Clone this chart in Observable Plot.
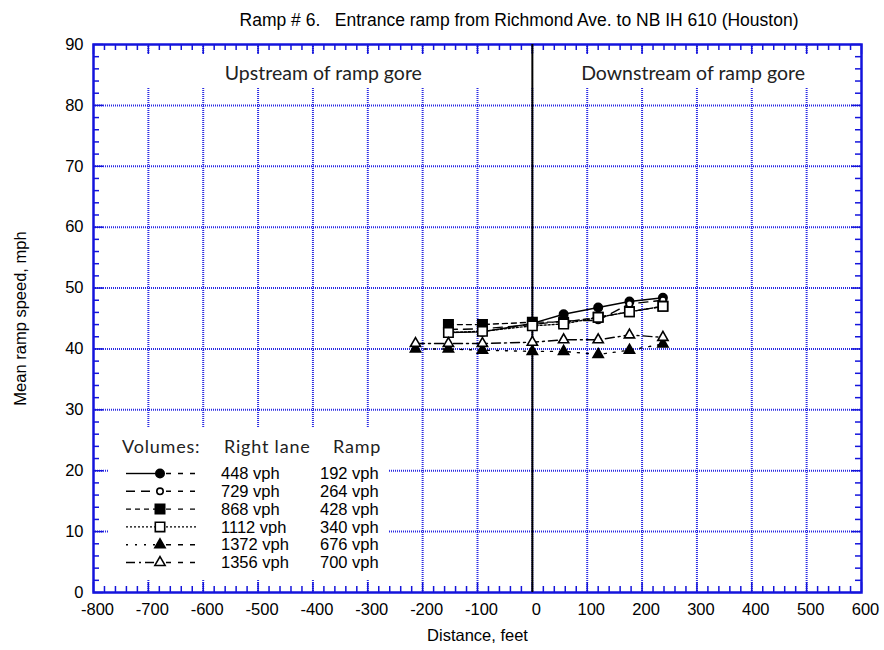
<!DOCTYPE html>
<html><head><meta charset="utf-8">
<script src="https://cdn.jsdelivr.net/npm/d3@7"></script>
<script src="https://cdn.jsdelivr.net/npm/@observablehq/plot@0.6"></script>
<style>
body{margin:0;background:#fff;}
#wrap{position:relative;width:884px;height:650px;font-family:"Liberation Sans",Arial,sans-serif;}
#title{height:30px;box-sizing:border-box;padding:11px 0 0 154px;line-height:18px;font-size:17.5px;text-align:center;white-space:pre;color:#000;}
#legend{position:absolute;left:0;top:0;pointer-events:none;}
</style></head><body>
<div id="wrap"><div id="title"></div><div id="chart"></div><svg id="legend" width="884" height="650"></svg></div>
<script>
// ---------- data ----------
const chartTitle = "Ramp # 6.   Entrance ramp from Richmond Ave. to NB IH 610 (Houston)";
const xLabel = "Distance, feet";
const yLabel = "Mean ramp speed, mph";
const regionLabels = ["Upstream of ramp gore", "Downstream of ramp gore"];
const regionCenters = [-381, 293];
const xTicks = [-800,-700,-600,-500,-400,-300,-200,-100,0,100,200,300,400,500,600];
const yTicks = [0,10,20,30,40,50,60,70,80,90];
const distances = [-213,-153,-91,0,57,120,177,238];
const seriesNames = ["448","729","868","1112","1372","1356"];
const rightLane = ["448 vph","729 vph","868 vph","1112 vph","1372 vph","1356 vph"];
const rampVolume = ["192 vph","264 vph","428 vph","340 vph","676 vph","700 vph"];
const legendHeader = ["Volumes:", "Right lane", "Ramp"];
const s448  = [null, 42.7, 42.8, 44.2, 45.7, 46.8, 47.8, 48.4];
const s729  = [null, 43.2, 43.3, 44.0, 44.6, 44.7, 47.4, 48.0];
const s868  = [null, 44.0, 44.0, 44.4, 44.4, 45.2, 46.1, 47.0];
const s1112 = [null, 42.7, 42.9, 43.8, 44.1, 45.2, 46.1, 47.0];
const s1372 = [40.0, 40.0, 39.8, 39.6, 39.6, 39.1, 39.8, 40.8];
const s1356 = [40.9, 40.9, 40.9, 41.1, 41.5, 41.5, 42.3, 41.9];
const seriesValues = [s448, s729, s868, s1112, s1372, s1356];

// ---------- styles ----------
const styles = [
  {dash: null,      symbol: "circle",   fill: "black", r: 4.2},
  {dash: "9,6",     symbol: "circle",   fill: "white", r: 3.2},
  {dash: "5,4",     symbol: "square",   fill: "black", r: 5.3},
  {dash: "2,2",     symbol: "square",   fill: "white", r: 5.3},
  {dash: "2,7",     symbol: "triangle", fill: "black", r: 3.8},
  {dash: "9,4,2,4", symbol: "triangle", fill: "white", r: 3.8}
];
const BLUE = "#1414dc";
const GRID = "#2a2ae2";
const FONT = "Liberation Sans, Arial, sans-serif";
const FS = 16.5;

const rows = [];
seriesNames.forEach((s, i) => seriesValues[i].forEach((v, j) => {
  if (v != null) rows.push({series: s, x: distances[j], y: v});
}));

const minorX = d3.range(-800, 601, 20).filter(v => v % 100 !== 0);
const minorY = d3.range(0, 91, 2).filter(v => v % 10 !== 0);

document.getElementById("title").textContent = chartTitle;

const W = 884, H = 620;
const mL = 93, mR = 23, mT = 14, mB = 58;
const xs = d3.scaleLinear([-800, 600], [0, W - mL - mR]);
const ys = d3.scaleLinear([0, 90], [H - mT - mB, 0]);
const pxX = p => xs.invert(p) - xs.invert(0);
const pxY = p => ys.invert(0) - ys.invert(p);

const marks = [
  Plot.gridX(xTicks.slice(1, -1), {stroke: GRID, strokeOpacity: 1, strokeWidth: 2, strokeDasharray: "1,1"}),
  Plot.gridY(yTicks.slice(1, -1), {stroke: GRID, strokeOpacity: 1, strokeWidth: 2, strokeDasharray: "1,1"}),
  // white band behind region labels
  Plot.rect([0], {x1: -800, x2: 600, y1: 90 - pxY(9), y2: 90 - pxY(44), fill: "white", inset: 0}),
  // inward ticks
  Plot.ruleX(minorX, {y1: 0, y2: pxY(6), stroke: BLUE, strokeWidth: 1.5}),
  Plot.ruleX(minorX, {y1: 90, y2: 90 - pxY(6), stroke: BLUE, strokeWidth: 1.5}),
  Plot.ruleX(xTicks, {y1: 90, y2: 90 - pxY(10), stroke: BLUE, strokeWidth: 1.5}),
  Plot.ruleX(xTicks, {y1: 0, y2: pxY(10), stroke: BLUE, strokeWidth: 1.5}),
  Plot.ruleY(minorY, {x1: -800, x2: -800 + pxX(6), stroke: BLUE, strokeWidth: 1.5}),
  Plot.ruleY(minorY, {x1: 600, x2: 600 - pxX(6), stroke: BLUE, strokeWidth: 1.5}),
  Plot.ruleY(yTicks, {x1: -800, x2: -800 + pxX(10), stroke: BLUE, strokeWidth: 1.5}),
  Plot.ruleY(yTicks, {x1: 600, x2: 600 - pxX(10), stroke: BLUE, strokeWidth: 1.5}),
  Plot.frame({stroke: BLUE, strokeWidth: 2.5}),
  Plot.ruleX([0], {stroke: "black", strokeWidth: 2}),
  Plot.text(regionLabels, {x: (d, i) => regionCenters[i], frameAnchor: "top", dy: 29, lineAnchor: "middle",
    text: d => d, fontFamily: "Lato", fontSize: 19.5, fill: "#222", style: "letter-spacing:0.8px"}),
  Plot.axisX(xTicks, {tickSize: 0, tickPadding: 11, dx: 4, tickFormat: d => String(d), label: null, fontSize: FS}),
  Plot.axisY(yTicks, {tickSize: 0, tickPadding: 10, tickFormat: d => String(d), label: null, fontSize: FS}),
  Plot.text([xLabel], {frameAnchor: "bottom", dy: 43, lineAnchor: "middle", textAnchor: "middle", fontSize: FS, text: d => d}),
  Plot.text([yLabel], {frameAnchor: "left", dx: -73, rotate: -90, textAnchor: "middle", lineAnchor: "middle", fontSize: FS, text: d => d})
];
seriesNames.forEach((s, i) => {
  marks.push(Plot.line(rows, {filter: d => d.series === s, x: "x", y: "y", stroke: "black",
    strokeWidth: 1.4, strokeDasharray: styles[i].dash || undefined}));
});
seriesNames.forEach((s, i) => {
  marks.push(Plot.dot(rows, {filter: d => d.series === s, x: "x", y: "y", symbol: styles[i].symbol,
    r: styles[i].r, fill: styles[i].fill, stroke: "black", strokeWidth: 1.6}));
});

const chart = Plot.plot({
  width: W, height: H,
  marginLeft: mL, marginRight: mR, marginTop: mT, marginBottom: mB,
  x: {domain: [-800, 600]},
  y: {domain: [0, 90]},
  style: {fontFamily: FONT, fontSize: FS + "px", color: "black", background: "white"},
  marks
});
document.getElementById("chart").appendChild(chart);

// ---------- legend (inside plot, white box) ----------
const lg = d3.select("#legend");
lg.append("rect").attr("x", 108).attr("y", 428).attr("width", 280).attr("height", 152).attr("fill", "white");
const hdrX = [122, 224, 333];
legendHeader.forEach((t, i) => lg.append("text").attr("x", hdrX[i]).attr("y", 447).attr("dy", "0.35em")
  .attr("font-family", "Lato").attr("font-size", 18).attr("letter-spacing", "0.8px").attr("fill", "#222").text(t));
const symMap = {circle: d3.symbolCircle, square: d3.symbolSquare, triangle: d3.symbolTriangle};
seriesNames.forEach((s, i) => {
  const y = 473.5 + i * 17.8;
  const st = styles[i];
  lg.append("line").attr("x1", 126).attr("x2", 158).attr("y1", y).attr("y2", y)
    .attr("stroke", "black").attr("stroke-width", 1.4).attr("stroke-dasharray", st.dash || null);
  lg.append("line").attr("x1", 162).attr("x2", 197).attr("y1", y).attr("y2", y)
    .attr("stroke", "black").attr("stroke-width", 1.4).attr("stroke-dasharray", i === 3 ? "2,2" : "5,7")
    .attr("stroke-dashoffset", -4);
  lg.append("path").attr("transform", `translate(160,${y})`)
    .attr("d", d3.symbol(symMap[st.symbol], Math.PI * st.r * st.r)())
    .attr("fill", st.fill).attr("stroke", "black").attr("stroke-width", 1.6);
  lg.append("text").attr("x", 221).attr("y", y).attr("dy", "0.35em").attr("font-size", FS)
    .attr("font-family", FONT).text(rightLane[i]);
  lg.append("text").attr("x", 320).attr("y", y).attr("dy", "0.35em").attr("font-size", FS)
    .attr("font-family", FONT).text(rampVolume[i]);
});
</script>
</body></html>
